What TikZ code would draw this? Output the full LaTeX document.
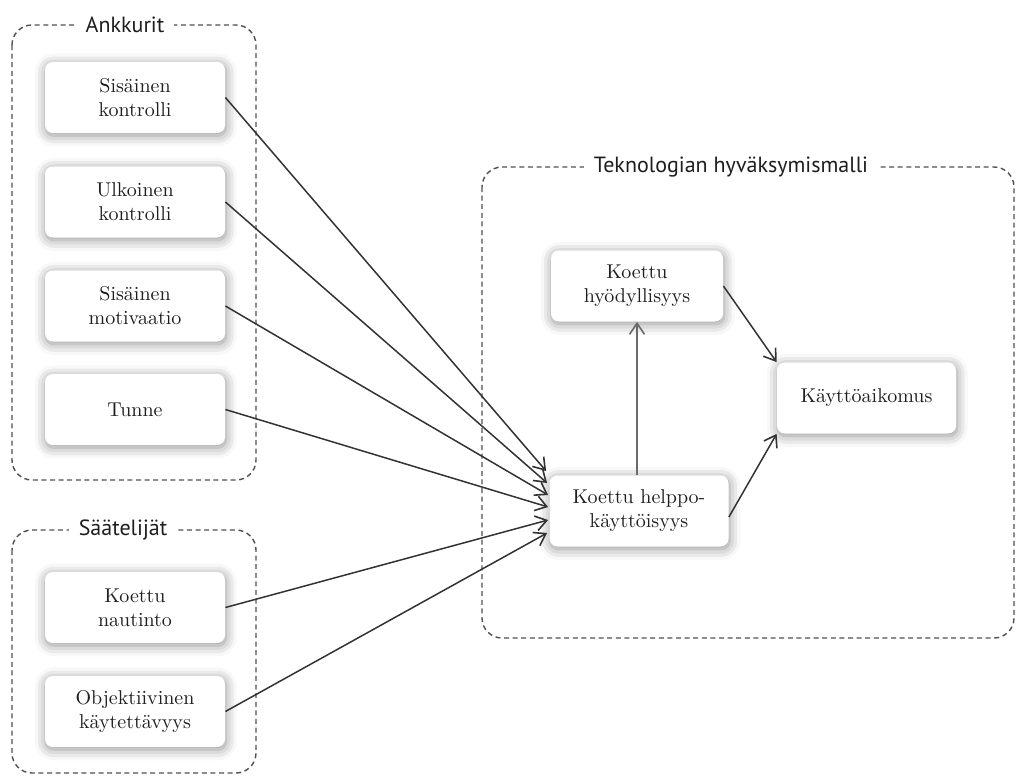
\documentclass[tikz,border=0pt]{standalone}
\usepackage{fontspec}
\setsansfont{PT Sans}
\usetikzlibrary{arrows.meta,calc,shadows.blur}
\definecolor{linegray}{HTML}{505050}
\definecolor{arrgray}{HTML}{333333}
\definecolor{txtgray}{HTML}{1E1E1E}
\begin{document}
\begin{tikzpicture}[x=0.5pt,y=-0.5pt,
 box/.style={fill=white, rounded corners=4pt, minimum width=90pt, minimum height=35.5pt, inner sep=2pt, align=center, font=\fontsize{10}{12}\selectfont, text=txtgray, blur shadow={shadow xshift=0.4pt, shadow yshift=-1.2pt, shadow blur radius=5.5pt, shadow opacity=45}},
 group/.style={draw=linegray, line width=0.7pt, dash pattern=on 2.5pt off 1.8pt, rounded corners=10pt},
 glabel/.style={fill=white, font=\sffamily\fontsize{11}{13}\selectfont, text=txtgray, inner xsep=5pt, inner ysep=1pt},
 arr/.style={draw=arrgray, line width=0.75pt, -{Straight Barb[length=5.5pt,width=7.5pt,line width=0.8pt]}}]
\useasboundingbox (0,0) rectangle (1016,776);

% groups
\draw[group] (12,25) rectangle (256,480);
\node[glabel] (gA) at (125,25) {Ankkurit};
\draw[group] (12,530) rectangle (256,773);
\node[glabel] (gS) at (123,530) {Säätelijät};
\draw[group] (482,167) rectangle (1014,638);
\node[glabel] (gT) at (731,167) {Teknologian hyväksymismalli};

% boxes
\node[box] (sk) at (135,97.5) {Sisäinen\\kontrolli};
\node[box] (uk) at (135,202) {Ulkoinen\\kontrolli};
\node[box] (sm) at (135,306) {Sisäinen\\motivaatio};
\node[box] (tu) at (135,409.5) {Tunne};
\node[box] (kn) at (135,607.5) {Koettu\\nautinto};
\node[box] (ok) at (135,711.5) {Objektiivinen\\käytettävyys};
\node[box, minimum width=86pt] (kh) at (637,286) {Koettu\\hyödyllisyys};
\node[box, minimum width=89.5pt] (khk) at (639,511) {Koettu helppo-\\käyttöisyys};
\node[box, minimum width=89.5pt] (ka) at (866.5,398) {Käyttöaikomus};

% arrow end points on the west side of khk
\coordinate (e1) at ($(khk.west)+(-3,-40)$);
\coordinate (e2) at ($(khk.west)+(-2,-28)$);
\coordinate (e3) at ($(khk.west)+(-1,-16)$);
\coordinate (e4) at ($(khk.west)+(-1,-4)$);
\coordinate (e5) at ($(khk.west)+(-1,9)$);
\coordinate (e6) at ($(khk.west)+(-2,22)$);

\draw[arr] (sk.east) -- (e1);
\draw[arr] (uk.east) -- (e2);
\draw[arr] (sm.east) -- (e3);
\draw[arr] (tu.east) -- (e4);
\draw[arr] (kn.east) -- (e5);
\draw[arr] (ok.east) -- (e6);

\draw[arr, draw=linegray!85] (khk.north -| kh.south) -- (kh.south);
\draw[arr] (kh.east) -- (ka.north west);
\draw[arr] ($(khk.east)+(0,6)$) -- (ka.south west);
\end{tikzpicture}
\end{document}
